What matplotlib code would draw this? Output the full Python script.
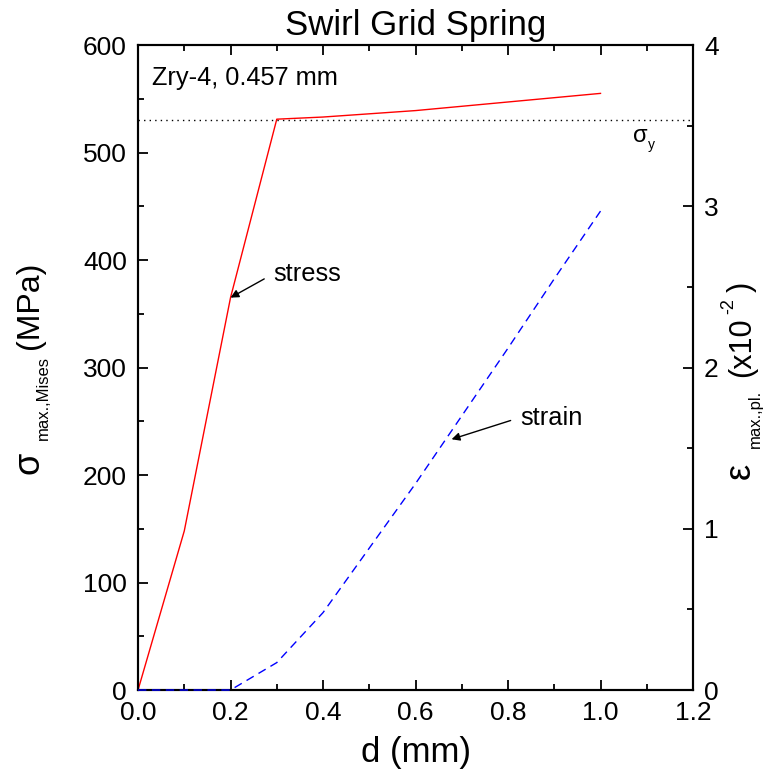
import matplotlib
matplotlib.use('Agg')
from matplotlib import pyplot as plt

plt.rcParams['font.family'] = ['Liberation Sans', 'DejaVu Sans']

# displacement d (mm)
d = [0.0, 0.1, 0.2, 0.3, 0.4, 0.5, 0.6, 0.7, 0.8, 0.9, 1.0]
# max von Mises stress (MPa)
stress = [0, 148, 365, 531, 533, 536, 539, 543, 547, 551, 555]
# max plastic strain (x10^-2)
strain = [0, 0, 0, 0.17, 0.48, 0.88, 1.28, 1.70, 2.12, 2.55, 2.97]
sigma_y = 530

W, H = 766, 776
fig = plt.figure(figsize=(W / 100, H / 100), dpi=100)
ax = fig.add_axes([0.1802, 0.1108, 0.7245, 0.8312])
ax2 = ax.twinx()


def ptext(x, y, s, size, rot=0):
    # text anchored at its baseline start, given in pixels from the top-left
    fig.text(x / W, 1 - y / H, s, fontsize=size, rotation=rot,
             rotation_mode='anchor', ha='left', va='baseline')


ax.plot(d, stress, color='red', lw=1.0, clip_on=False, zorder=3)
ax.plot([0, 1.2], [sigma_y, sigma_y], color='black', lw=1.0, ls=(0, (1, 3)))
ax2.plot(d, strain, color='blue', lw=1.0, ls=(0, (6, 4)), clip_on=False, zorder=3)

ax.set_xlim(0, 1.2)
ax.set_ylim(0, 600)
ax2.set_ylim(0, 4)
ax.set_xticks([0, 0.2, 0.4, 0.6, 0.8, 1.0, 1.2])
ax.set_xticklabels(['0.0', '0.2', '0.4', '0.6', '0.8', '1.0', '1.2'])
ax.set_xticks([0.1, 0.3, 0.5, 0.7, 0.9, 1.1], minor=True)
ax.set_yticks([0, 100, 200, 300, 400, 500, 600])
ax.set_yticks([50, 150, 250, 350, 450, 550], minor=True)
ax2.set_yticks([0, 1, 2, 3, 4])
ax2.set_yticks([0.5, 1.5, 2.5, 3.5], minor=True)

for a in (ax, ax2):
    for s in a.spines.values():
        s.set_linewidth(1.5)
ax.tick_params(which='both', direction='in', top=True, right=False,
               labelsize=19, width=1.3)
ax.tick_params(which='major', length=7, pad=8)
ax.tick_params(which='minor', length=4)
ax2.tick_params(which='both', direction='in', labelsize=19, width=1.3)
ax2.tick_params(which='major', length=7, pad=8)
ax2.tick_params(which='minor', length=4)

ax.set_title('Swirl Grid Spring', fontsize=25, pad=7)
ax.set_xlabel('d (mm)', fontsize=25, labelpad=8)

# left axis label: sigma_max.,Mises (MPa)
ptext(38, 474, 'σ', 26, 90)
ptext(47.5, 440, 'max.,Mises', 12, 90)
ptext(38, 349, '(MPa)', 23, 90)
# right axis label: epsilon_max.,pl. (x10^-2)
ptext(750, 479, 'ε', 26, 90)
ptext(760, 448, 'max.,pl.', 12, 90)
ptext(750, 377, '(x10', 22, 90)
ptext(733, 314, '-2', 13, 90)
ptext(750, 292, ')', 22, 90)

ax.text(0.03, 569, 'Zry-4, 0.457 mm', fontsize=18.3, va='center', ha='left')
ptext(633, 142, 'σ', 17)
ptext(648, 149, 'y', 10)

arrow = dict(arrowstyle='-|>', color='black', lw=1.0, mutation_scale=12,
             relpos=(0, 0.5), shrinkA=5, shrinkB=0)
ax.annotate('stress', xy=(0.2, 365), xytext=(0.292, 387), fontsize=18.3,
            va='center', ha='left', arrowprops=arrow)
ax2.annotate('strain', xy=(0.678, 1.555), xytext=(0.826, 1.69), fontsize=18.3,
             va='center', ha='left', arrowprops=arrow)

fig.savefig('out.png', dpi=100)
